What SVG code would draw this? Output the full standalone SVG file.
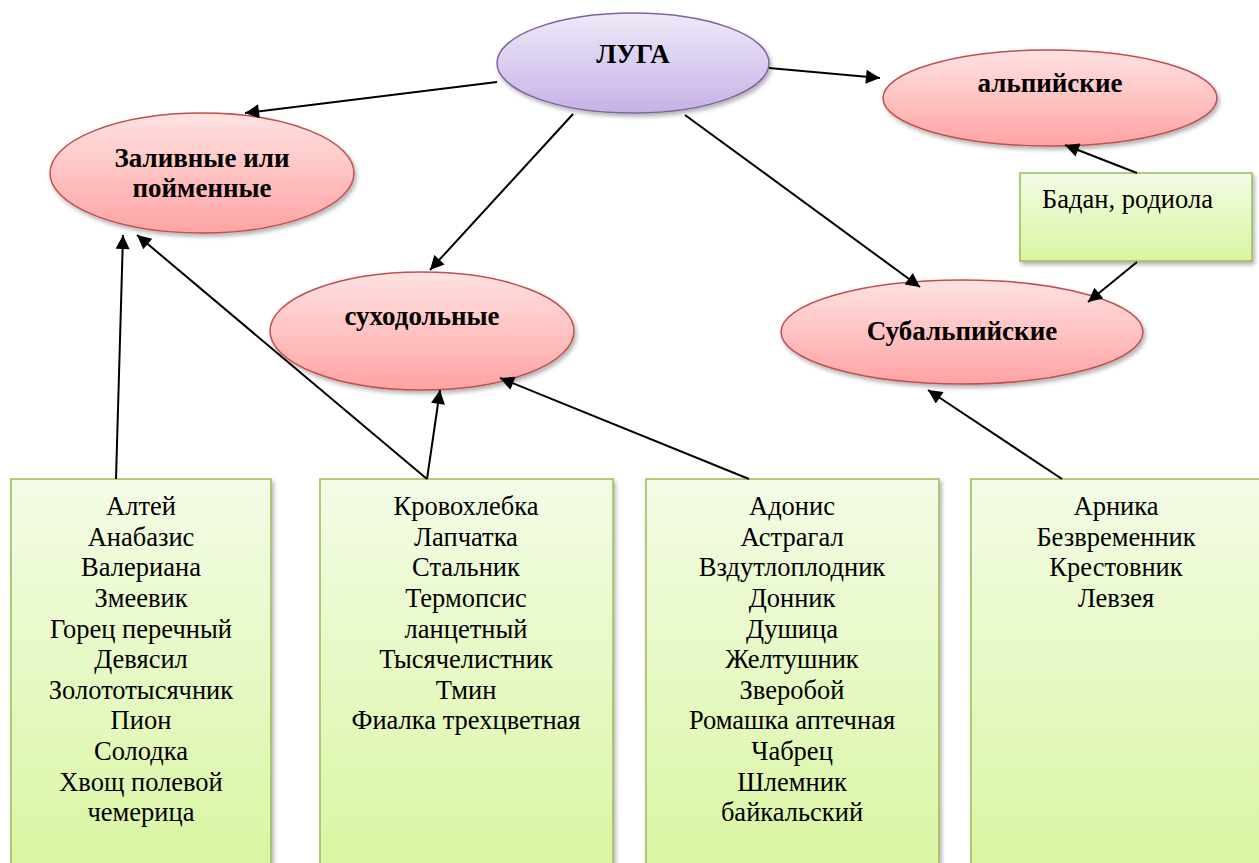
<svg xmlns="http://www.w3.org/2000/svg" width="1259" height="863" viewBox="0 0 1259 863">
<defs>
<linearGradient id="gv" x1="0" y1="0" x2="0" y2="1"><stop offset="0" stop-color="#efe9f8"/><stop offset="1" stop-color="#c6b2e6"/></linearGradient>
<linearGradient id="gr" x1="0" y1="0" x2="0" y2="1"><stop offset="0" stop-color="#ffe2e2"/><stop offset="1" stop-color="#ffa3a3"/></linearGradient>
<linearGradient id="gg" x1="0" y1="0" x2="0" y2="1"><stop offset="0" stop-color="#f3fce6"/><stop offset="1" stop-color="#d9f5a0"/></linearGradient>
<filter id="sh" x="-10%" y="-10%" width="125%" height="130%"><feDropShadow dx="2" dy="3" stdDeviation="2" flood-color="#000" flood-opacity="0.3"/></filter>
<marker id="ah" viewBox="0 0 10 10" refX="10" refY="5" markerWidth="8" markerHeight="7" markerUnits="strokeWidth" orient="auto"><path d="M0,0 L10,5 L0,10 z" fill="#000"/></marker>
</defs>
<style>
.ev{fill:url(#gv);stroke:#8064a2;stroke-width:1.5;filter:url(#sh)}
.er{fill:url(#gr);stroke:#c0504d;stroke-width:1.5;filter:url(#sh)}
.bx{fill:url(#gg);stroke:#9bbb59;stroke-width:1.5;filter:url(#sh)}
.t{font-family:"Liberation Serif",serif;font-weight:bold;font-size:27px;fill:#000;text-anchor:middle}
.l{font-family:"Liberation Serif",serif;font-size:26.5px;fill:#000;text-anchor:middle}
.c line{stroke:#000;stroke-width:2;marker-end:url(#ah)}
</style>
<rect width="1259" height="863" fill="#fff"/>
<g id="luga"><ellipse class="ev" cx="633" cy="63" rx="136" ry="50"/><text class="t" x="633" y="63">ЛУГА</text></g>
<g id="zalivnye"><ellipse class="er" cx="202" cy="173" rx="152" ry="60"/><text class="t" x="202" y="167">Заливные или</text><text class="t" x="202" y="197">пойменные</text></g>
<g id="alp"><ellipse class="er" cx="1050" cy="98" rx="167" ry="48"/><text class="t" x="1050" y="92">альпийские</text></g>
<g id="suhod"><ellipse class="er" cx="422" cy="331" rx="152" ry="59"/><text class="t" x="422" y="325">суходольные</text></g>
<g id="subalp"><ellipse class="er" cx="962" cy="332" rx="181" ry="52"/><text class="t" x="962" y="340">Субальпийские</text></g>
<g id="badan"><rect class="bx" x="1020" y="173" width="232" height="88"/><text class="l" x="1042" y="208" style="text-anchor:start">Бадан, родиола</text></g>
<g id="box1"><rect class="bx" x="11" y="479" width="260" height="400"/>
<text class="l"><tspan x="141" y="515">Алтей</tspan><tspan x="141" y="546">Анабазис</tspan><tspan x="141" y="576">Валериана</tspan><tspan x="141" y="607">Змеевик</tspan><tspan x="141" y="638">Горец перечный</tspan><tspan x="141" y="668">Девясил</tspan><tspan x="141" y="699">Золототысячник</tspan><tspan x="141" y="729">Пион</tspan><tspan x="141" y="760">Солодка</tspan><tspan x="141" y="791">Хвощ полевой</tspan><tspan x="141" y="821">чемерица</tspan></text></g>
<g id="box2"><rect class="bx" x="320" y="479" width="293" height="400"/>
<text class="l"><tspan x="466" y="515">Кровохлебка</tspan><tspan x="466" y="546">Лапчатка</tspan><tspan x="466" y="576">Стальник</tspan><tspan x="466" y="607">Термопсис</tspan><tspan x="466" y="638">ланцетный</tspan><tspan x="466" y="668">Тысячелистник</tspan><tspan x="466" y="699">Тмин</tspan><tspan x="466" y="729">Фиалка трехцветная</tspan></text></g>
<g id="box3"><rect class="bx" x="646" y="479" width="293" height="400"/>
<text class="l"><tspan x="792" y="515">Адонис</tspan><tspan x="792" y="546">Астрагал</tspan><tspan x="792" y="576">Вздутлоплодник</tspan><tspan x="792" y="607">Донник</tspan><tspan x="792" y="638">Душица</tspan><tspan x="792" y="668">Желтушник</tspan><tspan x="792" y="699">Зверобой</tspan><tspan x="792" y="729">Ромашка аптечная</tspan><tspan x="792" y="760">Чабрец</tspan><tspan x="792" y="791">Шлемник</tspan><tspan x="792" y="821">байкальский</tspan></text></g>
<g id="box4"><rect class="bx" x="971" y="479" width="300" height="400"/>
<text class="l"><tspan x="1116" y="515">Арника</tspan><tspan x="1116" y="546">Безвременник</tspan><tspan x="1116" y="576">Крестовник</tspan><tspan x="1116" y="607">Левзея</tspan></text></g>
<g id="connectors" class="c">
<line x1="497" y1="82" x2="245" y2="113"/>
<line x1="769" y1="68" x2="880" y2="78"/>
<line x1="573" y1="114" x2="430" y2="270"/>
<line x1="685" y1="115" x2="920" y2="287"/>
<line x1="1137" y1="173" x2="1065" y2="145"/>
<line x1="1137" y1="262" x2="1088" y2="302"/>
<line x1="116" y1="479" x2="123" y2="235"/>
<line x1="427" y1="479" x2="137" y2="235"/>
<line x1="427" y1="479" x2="440" y2="390"/>
<line x1="749" y1="479" x2="500" y2="378"/>
<line x1="1062" y1="479" x2="928" y2="390"/>
</g>
</svg>
